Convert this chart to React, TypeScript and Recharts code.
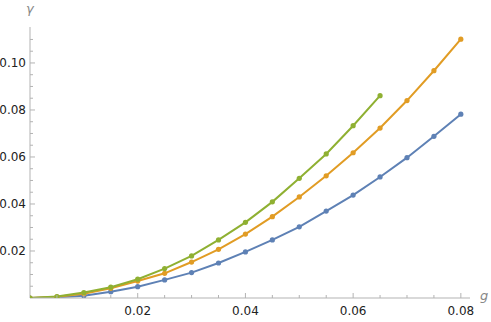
import React from 'react';
import { LineChart, Line, XAxis, YAxis } from 'recharts';

const gValues = [0, 0.005, 0.01, 0.015, 0.02, 0.025, 0.03, 0.035, 0.04, 0.045, 0.05, 0.055, 0.06, 0.065, 0.07, 0.075, 0.08];
const blueSeries = [0, 0.0003, 0.001, 0.0027, 0.0048, 0.0077, 0.0108, 0.0149, 0.0196, 0.0247, 0.0303, 0.037, 0.0438, 0.0515, 0.0597, 0.0688, 0.0782];
const orangeSeries = [0, 0.0005, 0.0018, 0.0041, 0.0072, 0.0105, 0.0153, 0.0207, 0.0272, 0.0346, 0.043, 0.052, 0.0618, 0.0723, 0.084, 0.0967, 0.1101];
const greenSeries = [0, 0.0006, 0.0023, 0.0046, 0.008, 0.0125, 0.0179, 0.0247, 0.0322, 0.0409, 0.0509, 0.0613, 0.0733, 0.0861];

const xTicks = [0.005, 0.01, 0.015, 0.02, 0.025, 0.03, 0.035, 0.04, 0.045, 0.05, 0.055, 0.06, 0.065, 0.07, 0.075, 0.08];
const xLabels = ['0.02', '0.04', '0.06', '0.08'];
const yTicks = [0.005, 0.01, 0.015, 0.02, 0.025, 0.03, 0.035, 0.04, 0.045, 0.05, 0.055, 0.06, 0.065, 0.07, 0.075, 0.08, 0.085, 0.09, 0.095, 0.1, 0.105, 0.11];
const yLabels = ['0.02', '0.04', '0.06', '0.08', '0.10'];

const data = gValues.map((g, i) => ({
  g,
  blue: blueSeries[i],
  orange: orangeSeries[i],
  green: i < greenSeries.length ? greenSeries[i] : undefined,
}));

const AXIS = '#b3b3b3';
const FONT = '"DejaVu Sans", "Liberation Sans", Arial, sans-serif';

const isMajor = (v: number, labels: string[]) =>
  labels.includes(v.toFixed(2)) && Math.abs(v * 100 - Math.round(v * 100)) < 1e-6;

const XTick = (props: any) => {
  const { x, y, payload } = props;
  const v = payload.value as number;
  const major = isMajor(v, xLabels);
  return (
    <g>
      <line x1={x} x2={x} y1={y} y2={y - (major ? 5 : 3)} stroke={AXIS} strokeWidth={1} />
      {major && (
        <text x={x} y={y + 17} textAnchor="middle" fontSize={12} fontFamily={FONT} fill="#222">
          {v.toFixed(2)}
        </text>
      )}
    </g>
  );
};

const YTick = (props: any) => {
  const { x, y, payload } = props;
  const v = payload.value as number;
  const major = isMajor(v, yLabels);
  return (
    <g>
      <line x1={x} x2={x + (major ? 5 : 3)} y1={y} y2={y} stroke={AXIS} strokeWidth={1} />
      {major && (
        <text x={x - 4} y={y + 4} textAnchor="end" fontSize={12} fontFamily={FONT} fill="#222">
          {v.toFixed(2)}
        </text>
      )}
    </g>
  );
};

export default function App() {
  return (
    <div style={{ position: 'absolute', left: 0, top: 0, width: 491, height: 322, background: '#fff' }}>
      <LineChart width={491} height={322} data={data} margin={{ top: 27, right: 21, bottom: 0, left: 0 }}>
        <XAxis
          dataKey="g"
          type="number"
          domain={[0, 0.0817]}
          allowDataOverflow
          ticks={xTicks}
          interval={0}
          height={24}
          tickSize={0}
          tickMargin={0}
          tickLine={false}
          axisLine={{ stroke: AXIS, strokeWidth: 1 }}
          tick={<XTick />}
        />
        <YAxis
          type="number"
          domain={[0, 0.1153]}
          allowDataOverflow
          ticks={yTicks}
          interval={0}
          width={30}
          tickSize={0}
          tickMargin={0}
          tickLine={false}
          axisLine={{ stroke: AXIS, strokeWidth: 1 }}
          tick={<YTick />}
        />
        <Line dataKey="blue" stroke="#5E81B5" strokeWidth={2} dot={{ r: 2.6, fill: '#5E81B5', stroke: 'none' }} isAnimationActive={false} />
        <Line dataKey="orange" stroke="#E19C24" strokeWidth={2} dot={{ r: 2.6, fill: '#E19C24', stroke: 'none' }} isAnimationActive={false} />
        <Line dataKey="green" stroke="#8FB032" strokeWidth={2} dot={{ r: 2.6, fill: '#8FB032', stroke: 'none' }} isAnimationActive={false} />
      </LineChart>
      <div style={{ position: 'absolute', left: 26, top: 1, fontFamily: FONT, fontStyle: 'italic', fontSize: 13, color: '#888' }}>γ</div>
      <div style={{ position: 'absolute', left: 480, top: 288, fontFamily: FONT, fontStyle: 'italic', fontSize: 13, color: '#888' }}>g</div>
    </div>
  );
}
